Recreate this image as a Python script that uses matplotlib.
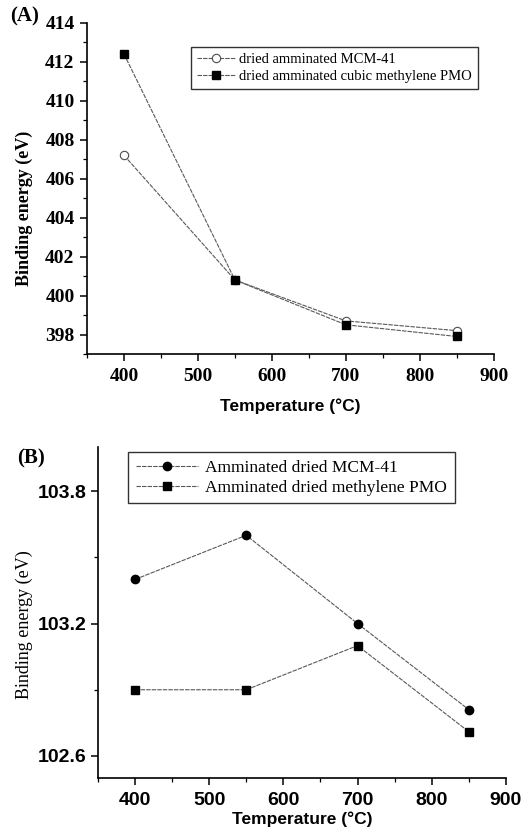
"""Binding energy vs temperature, two stacked panels (A) and (B)."""

import matplotlib

matplotlib.use("Agg")

import matplotlib.pyplot as plt
from matplotlib.ticker import MultipleLocator

# Panel A data
temps_a = [400, 550, 700, 850]
mcm41_a = [407.2, 400.8, 398.7, 398.2]
pmo_a = [412.4, 400.8, 398.5, 397.9]
labels_a = ["dried amminated MCM-41", "dried amminated cubic methylene PMO"]

# Panel B data
temps_b = [400, 550, 700, 850]
mcm41_b = [103.40, 103.60, 103.20, 102.81]
pmo_b = [102.90, 102.90, 103.10, 102.71]
labels_b = ["Amminated dried MCM-41", "Amminated dried methylene PMO"]

SERIF = "Liberation Serif"
SANS = "Liberation Sans"
LINE_COLOR = "0.35"


def style_axes(ax):
    ax.spines["top"].set_visible(False)
    ax.spines["right"].set_visible(False)
    ax.spines["left"].set_linewidth(1.2)
    ax.spines["bottom"].set_linewidth(1.2)
    ax.tick_params(which="major", direction="out", length=5, width=1.1)
    ax.tick_params(which="minor", direction="out", length=3, width=0.9)


fig = plt.figure(figsize=(5.22, 8.32), dpi=100)

# ---- Panel A ----
ax_a = fig.add_axes([0.1667, 0.5745, 0.7793, 0.398])
ax_a.plot(temps_a, mcm41_a, color=LINE_COLOR, lw=0.8, linestyle=(0, (4, 1)),
          marker="o", markersize=6, markerfacecolor="white",
          markeredgecolor="0.3", markeredgewidth=0.8, label=labels_a[0])
ax_a.plot(temps_a, pmo_a, color=LINE_COLOR, lw=0.8, linestyle=(0, (4, 1)),
          marker="s", markersize=5.5, markerfacecolor="black",
          markeredgecolor="black", label=labels_a[1])
ax_a.set_xlim(350, 900)
ax_a.set_ylim(397, 414)
ax_a.xaxis.set_major_locator(MultipleLocator(100))
ax_a.xaxis.set_minor_locator(MultipleLocator(50))
ax_a.yaxis.set_major_locator(MultipleLocator(2))
ax_a.yaxis.set_minor_locator(MultipleLocator(1))
style_axes(ax_a)
for lab in ax_a.get_xticklabels() + ax_a.get_yticklabels():
    lab.set_fontfamily(SERIF)
    lab.set_fontweight("bold")
    lab.set_fontsize(14)
ax_a.tick_params(axis="x", pad=5)
ax_a.tick_params(axis="y", pad=4)
ax_a.set_xlabel("Temperature (°C)", fontfamily=SANS, fontweight="bold",
                fontsize=12.5, labelpad=10)
ax_a.set_ylabel("Binding energy (eV)", fontfamily=SERIF, fontweight="bold",
                fontsize=13)
ax_a.yaxis.set_label_coords(-0.133, 0.441)
leg_a = ax_a.legend(loc="upper left", bbox_to_anchor=(191 / 522, 1 - 47 / 832),
                    bbox_transform=fig.transFigure, frameon=True, fancybox=False,
                    prop={"family": SERIF, "size": 10.5}, borderpad=0.4,
                    labelspacing=0.25, handlelength=2.6, handletextpad=0.3,
                    borderaxespad=0)
leg_a.get_frame().set_edgecolor("black")
leg_a.get_frame().set_linewidth(1.0)
fig.text(10 / 522, 1 - 16 / 832, "(A)", fontfamily=SERIF, fontweight="bold",
         fontsize=15, va="center", ha="left")

# ---- Panel B ----
ax_b = fig.add_axes([0.1877, 0.0649, 0.7813, 0.3978])
ax_b.plot(temps_b, mcm41_b, color=LINE_COLOR, lw=0.8, linestyle=(0, (4, 1)),
          marker="o", markersize=6, markerfacecolor="black",
          markeredgecolor="black", label=labels_b[0])
ax_b.plot(temps_b, pmo_b, color=LINE_COLOR, lw=0.8, linestyle=(0, (4, 1)),
          marker="s", markersize=5.5, markerfacecolor="black",
          markeredgecolor="black", label=labels_b[1])
ax_b.set_xlim(350, 900)
ax_b.set_ylim(102.5, 104.0)
ax_b.xaxis.set_major_locator(MultipleLocator(100))
ax_b.xaxis.set_minor_locator(MultipleLocator(50))
ax_b.set_yticks([102.6, 103.2, 103.8])
ax_b.set_yticks([102.9, 103.5], minor=True)
style_axes(ax_b)
for lab in ax_b.get_xticklabels() + ax_b.get_yticklabels():
    lab.set_fontfamily(SANS)
    lab.set_fontweight("bold")
    lab.set_fontsize(14)
ax_b.tick_params(axis="x", pad=5)
ax_b.tick_params(axis="y", pad=3)
ax_b.set_xlabel("Temperature (°C)", fontfamily=SANS, fontweight="bold",
                fontsize=12.5, labelpad=2)
ax_b.set_ylabel("Binding energy (eV)", fontfamily=SERIF, fontsize=13)
ax_b.yaxis.set_label_coords(-0.159, 0.462)
leg_b = ax_b.legend(loc="upper left", bbox_to_anchor=(128 / 522, 1 - 452 / 832),
                    bbox_transform=fig.transFigure, frameon=True, fancybox=False,
                    prop={"family": SERIF, "size": 12.5}, borderpad=0.45,
                    labelspacing=0.2, handlelength=3.6, handletextpad=0.4,
                    borderaxespad=0)
leg_b.get_frame().set_edgecolor("black")
leg_b.get_frame().set_linewidth(1.0)
fig.text(17 / 522, 1 - 458 / 832, "(B)", fontfamily=SERIF, fontweight="bold",
         fontsize=15, va="center", ha="left")

fig.savefig("out.png", dpi=100)
